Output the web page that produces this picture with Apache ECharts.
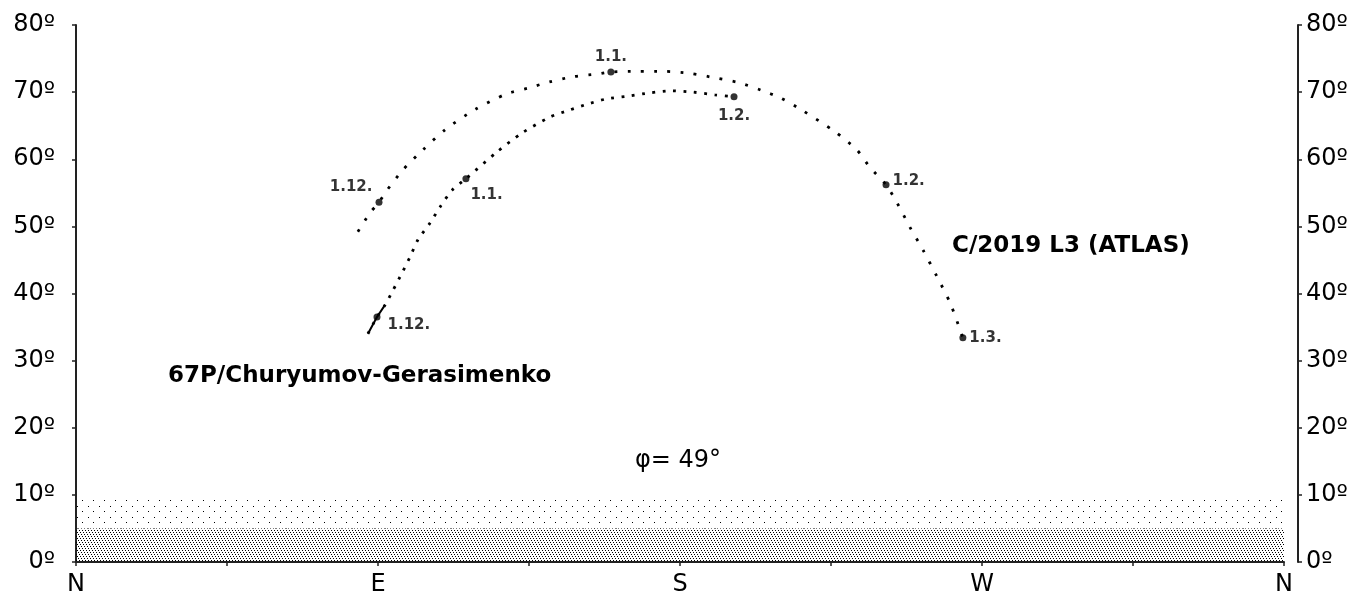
<!DOCTYPE html>
<html>
<head>
<meta charset="utf-8">
<script src="https://cdn.jsdelivr.net/npm/echarts@6/dist/echarts.min.js"></script>
<style>
  html, body { margin: 0; padding: 0; background: #fff; }
  #chart { width: 1355px; height: 598px; }
</style>
</head>
<body>
<div id="chart"></div>
<script>
// ---------- DATA (azimuth in degrees from N, altitude in degrees) ----------
const X_TICK_LABELS = { 0: 'N', 90: 'E', 180: 'S', 270: 'W', 360: 'N' };
const Y_TICK_SUFFIX = 'º';

const ATLAS_NAME = 'C/2019 L3 (ATLAS)';
const ATLAS_PATH = [
  [84.0,49.2],[87.6,52.0],[90.3,53.6],[92.7,55.4],[97.4,58.4],[103.4,61.4],
  [110.0,64.4],[118.9,67.4],[128.1,69.7],[134.7,70.6],[141.0,71.5],[148.1,72.3],
  [155.6,72.7],[159.4,73.0],[167.5,73.1],[175.2,73.1],[183.0,72.8],[190.7,72.1],
  [197.6,71.4],[204.1,70.3],[210.1,69.1],[216.4,67.3],[226.2,64.1],[232.7,61.4],
  [236.6,58.8],[241.4,56.2],[244.7,53.5],[248.5,49.9],[252.4,46.5],[256.6,42.5],
  [260.5,38.6],[264.3,33.4]
];
const ATLAS_DATES = ['1.12.', '1.1.', '1.2.', '1.3.'];
const ATLAS_DATE_POS = [[90.3,53.6],[159.4,73.0],[241.4,56.2],[264.3,33.4]];

const COMET_NAME = '67P/Churyumov-Gerasimenko';
const COMET_PATH = [
  [87.0,34.0],[89.7,36.5],[92.1,38.3],[94.5,40.5],[97.2,43.1],[99.5,45.4],
  [101.9,48.0],[105.5,50.5],[108.5,52.9],[112.1,55.4],[116.2,57.1],[125.5,61.1],
  [132.9,63.9],[141.3,66.3],[146.9,67.3],[152.3,68.2],[158.2,69.0],[164.5,69.4],
  [171.1,69.9],[177.6,70.2],[183.9,70.0],[190.4,69.6],[196.1,69.3]
];
const COMET_DATES = ['1.12.', '1.1.', '1.2.'];
const COMET_DATE_POS = [[89.7,36.5],[116.2,57.1],[196.1,69.3]];
const COMET_SOLID_COUNT = 3;

const HORIZON_BANDS = [[0, 5], [5, 9.3]];
const LATITUDE_TEXT = 'φ= 49°';

// ---------- STYLE ----------
const FONT = '"DejaVu Sans", "Liberation Sans", Arial, sans-serif';
const ATLAS_LABEL_STYLE = [
  { position: 'left', distance: 3, offset: [0, -15] },
  { position: 'top', distance: 4, offset: [0, 0] },
  { position: 'right', distance: 3, offset: [0, -4] },
  { position: 'right', distance: 3, offset: [0, 0] }
];
const COMET_LABEL_STYLE = [
  { position: 'right', distance: 7, offset: [0, 8] },
  { position: 'right', distance: 1, offset: [0, 16] },
  { position: 'bottom', distance: 8, offset: [0, 0] }
];

function makePattern(w, h, dots) {
  const c = document.createElement('canvas');
  c.width = w; c.height = h;
  const ctx = c.getContext('2d');
  ctx.fillStyle = '#000';
  dots.forEach(([x, y]) => ctx.fillRect(x, y, 1, 1));
  return c;
}
const densePattern = makePattern(6, 6, [[0,0],[3,0],[1,2],[4,2],[2,4],[5,4]]);
const sparsePattern = makePattern(11, 11, [[0,0],[5,5]]);
const bandPatterns = [densePattern, sparsePattern];

function dateMarks(pos, names, styles) {
  return pos.map((p, i) => ({
    value: p,
    label: {
      show: true,
      formatter: names[i],
      position: styles[i].position,
      distance: styles[i].distance,
      offset: styles[i].offset,
      fontFamily: FONT,
      fontWeight: 'bold',
      fontSize: 15,
      color: '#000'
    }
  }));
}

const chart = echarts.init(document.getElementById('chart'), null, { renderer: 'canvas' });

const yAxisCommon = {
  type: 'value', min: 0, max: 80, interval: 10,
  splitLine: { show: false },
  axisLine: { show: true, lineStyle: { color: '#222', width: 2 } },
  axisTick: { show: true, length: 4, lineStyle: { color: '#222', width: 1.5 } },
  axisLabel: {
    formatter: v => v + Y_TICK_SUFFIX,
    fontFamily: FONT, fontSize: 24, color: '#000',
    showMinLabel: true, showMaxLabel: true
  }
};

chart.setOption({
  animation: false,
  backgroundColor: '#fff',
  grid: { left: 76, right: 71, top: 25, bottom: 36, containLabel: false },
  xAxis: {
    type: 'value', min: 0, max: 360, interval: 45,
    splitLine: { show: false },
    axisLine: { show: true, onZero: false, lineStyle: { color: '#222', width: 2 } },
    axisTick: { show: true, length: 4, lineStyle: { color: '#222', width: 1.5 } },
    axisLabel: {
      formatter: v => X_TICK_LABELS[v] || '',
      fontFamily: FONT, fontSize: 24, color: '#000', margin: 11,
      showMinLabel: true, showMaxLabel: true
    }
  },
  yAxis: [
    Object.assign({}, yAxisCommon, { position: 'left', offset: 15,
      axisLabel: Object.assign({}, yAxisCommon.axisLabel, { margin: 6 }) }),
    Object.assign({}, yAxisCommon, { position: 'right', offset: 14,
      axisLabel: Object.assign({}, yAxisCommon.axisLabel, { margin: 8 }) })
  ],
  graphic: [
    { type: 'text', x: 168, y: 376, style: { text: COMET_NAME, font: 'bold 23px ' + FONT, fill: '#000', align: 'left', verticalAlign: 'middle' } },
    { type: 'text', x: 952, y: 246, style: { text: ATLAS_NAME, font: 'bold 23px ' + FONT, fill: '#000', align: 'left', verticalAlign: 'middle' } },
    { type: 'text', x: 635, y: 461, style: { text: LATITUDE_TEXT, font: '24px ' + FONT, fill: '#000', align: 'left', verticalAlign: 'middle' } }
  ],
  series: [
    {
      type: 'line', name: 'horizon', data: [], silent: true,
      markArea: {
        silent: true,
        data: HORIZON_BANDS.map((b, i) => [
          { xAxis: 0, yAxis: b[0], itemStyle: { color: { image: bandPatterns[i], repeat: 'repeat' } } },
          { xAxis: 360, yAxis: b[1] }
        ])
      }
    },
    {
      type: 'line', name: ATLAS_NAME, data: ATLAS_PATH, smooth: 0.25,
      showSymbol: false, silent: true,
      lineStyle: { color: '#000', width: 2.8, type: [2.8, 10.4], cap: 'butt' }
    },
    {
      type: 'line', name: COMET_NAME, data: COMET_PATH, smooth: 0.25,
      showSymbol: false, silent: true,
      lineStyle: { color: '#000', width: 2.8, type: [2.8, 7.6], cap: 'butt' }
    },
    {
      type: 'line', name: COMET_NAME + ' start', data: COMET_PATH.slice(0, COMET_SOLID_COUNT),
      showSymbol: false, silent: true,
      lineStyle: { color: '#000', width: 2, type: 'solid' }
    },
    {
      type: 'scatter', name: ATLAS_NAME + ' dates', symbol: 'circle', symbolSize: 7,
      itemStyle: { color: '#000' }, silent: true,
      data: dateMarks(ATLAS_DATE_POS, ATLAS_DATES, ATLAS_LABEL_STYLE)
    },
    {
      type: 'scatter', name: COMET_NAME + ' dates', symbol: 'circle', symbolSize: 7,
      itemStyle: { color: '#000' }, silent: true,
      data: dateMarks(COMET_DATE_POS, COMET_DATES, COMET_LABEL_STYLE)
    }
  ]
});
</script>
</body>
</html>
